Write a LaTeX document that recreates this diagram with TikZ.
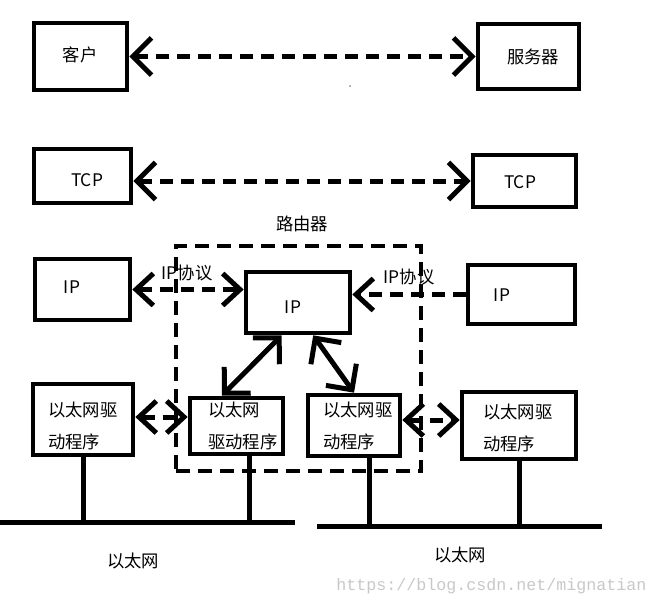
\documentclass[tikz,border=0pt]{standalone}
\usepackage{fontspec}
\setmainfont{Noto Sans CJK SC}
\newfontfamily\wmfont{Liberation Mono}
\usetikzlibrary{arrows.meta,fit,calc}
\definecolor{wmgray}{RGB}{200,200,200}
\tikzset{
  box/.style={draw, line width=3.5pt, inner sep=0pt},
  dline/.style={line width=3.75pt, dash pattern=on 9.75pt off 6pt},
  sline/.style={line width=3.75pt},
  rbox/.style={draw, line width=3.2pt, dash pattern=on 10.5pt off 6pt, inner sep=0pt},
  bigtip/.style={>={Straight Barb[length=14pt,width=28pt]}},
  smalltip/.style={>={Straight Barb[length=13pt,width=24pt]}},
  lbl/.style={font=\fontsize{13pt}{16pt}\selectfont, inner sep=0pt},
  two/.style={font=\fontsize{13pt}{24pt}\selectfont, inner sep=0pt, align=left, anchor=west},
}
\begin{document}
\begin{tikzpicture}[x=0.75pt, y=-0.75pt]
\useasboundingbox (0,0) rectangle (655,606);

% boxes
\node[box, fit={(34,23) (127,90)}] (kehu) {};
\node[box, fit={(478,24) (579,89)}] (fuwu) {};
\node[box, fit={(34,149) (131,203)}] (tcpL) {};
\node[box, fit={(473,155) (576,207)}] (tcpR) {};
\node[box, fit={(35,259) (130,320)}] (ipL) {};
\node[box, fit={(246,272) (350,333)}] (ipM) {};
\node[box, fit={(468,265) (575,324)}] (ipR) {};
\node[box, fit={(33,384) (133,455)}] (dL) {};
\node[box, fit={(190,398) (283,454)}] (dRL) {};
\node[box, fit={(308,395) (400,456)}] (dRR) {};
\node[box, fit={(462,392) (576,459)}] (dR) {};

% box texts
\node[lbl] (tkehu) at (80,55) {客户};
\node[lbl] (tfuwu) at (533,57) {服务器};
\node[lbl] (ttcpL) at (87,180) {TCP};
\node[lbl] (ttcpR) at (520,182) {TCP};
\node[lbl] (tipL) at (72,287) {IP};
\node[lbl] (tipM) at (293,307) {IP};
\node[lbl] (tipR) at (502,295) {IP};
\node[two] (tdL) at (48,426) {以太网驱\\动程序};
\node[two] (tdRL) at (208,426) {以太网\\驱动程序};
\node[two] (tdRR) at (323,426) {以太网驱\\动程序};
\node[two] (tdR) at (483,428) {以太网驱\\动程序};

% router frame
\node[rbox, fit={(176,246) (421,471)}] (router) {};
\node[lbl] (routerlbl) at (302,224) {路由器};
\node[lbl] (ipxyL) at (187,273) {IP协议};
\node[lbl] (ipxyR) at (409,277) {IP协议};

% stray dot
\fill[black!60] (350,86) circle (0.6pt);

% dashed arrows
\draw[dline, bigtip, <->] (kehu.east) -- (fuwu.west);
\draw[dline, bigtip, <->] (tcpL.east |- tcpR.west) -- (tcpR.west);
\draw[dline, smalltip, <->] (ipL.east) -- (ipM.west |- ipL.east);
\draw[dline, smalltip, ->] (ipR.west) -- (ipM.east |- ipR.west);
\draw[dline, smalltip, <->] (dL.east |- 0,417) -- (dRL.west |- 0,417);
\draw[dline, smalltip, <->] (dRR.east |- 0,420) -- (dR.west |- 0,420);

% solid arrows
\draw[sline, bigtip, <->] ($(ipM.south west)!0.35!(ipM.south east)$) -- ($(dRL.north west)!0.35!(dRL.north east)$);
\draw[sline, bigtip, <->] ($(ipM.south west)!0.64!(ipM.south east)$) -- (dRR.north);

% ethernet buses
\coordinate (busA1) at (0,522);
\coordinate (busA2) at (295,522);
\coordinate (busB1) at (317,526);
\coordinate (busB2) at (602,526);
\draw[sline] (busA1) -- (busA2);
\draw[sline] (busB1) -- (busB2);
\draw[sline] (dL.south) -- (dL.south |- busA1);
\coordinate (vRL) at ($(dRL.south west)!0.63!(dRL.south east)$);
\draw[sline] (vRL) -- (vRL |- busA1);
\coordinate (vRR) at ($(dRR.south west)!0.66!(dRR.south east)$);
\draw[sline] (vRR) -- (vRR |- busB1);
\draw[sline] (dR.south) -- (dR.south |- busB1);

\node[lbl] (ethL) at (133,561) {以太网};
\node[lbl] (ethR) at (460,555) {以太网};

% watermark
\node[font=\wmfont\fontsize{12.5pt}{14pt}\selectfont, text=wmgray, anchor=west, inner sep=0pt] (wm) at (336,586) {https://blog.csdn.net/mignatian};
\end{tikzpicture}
\end{document}
